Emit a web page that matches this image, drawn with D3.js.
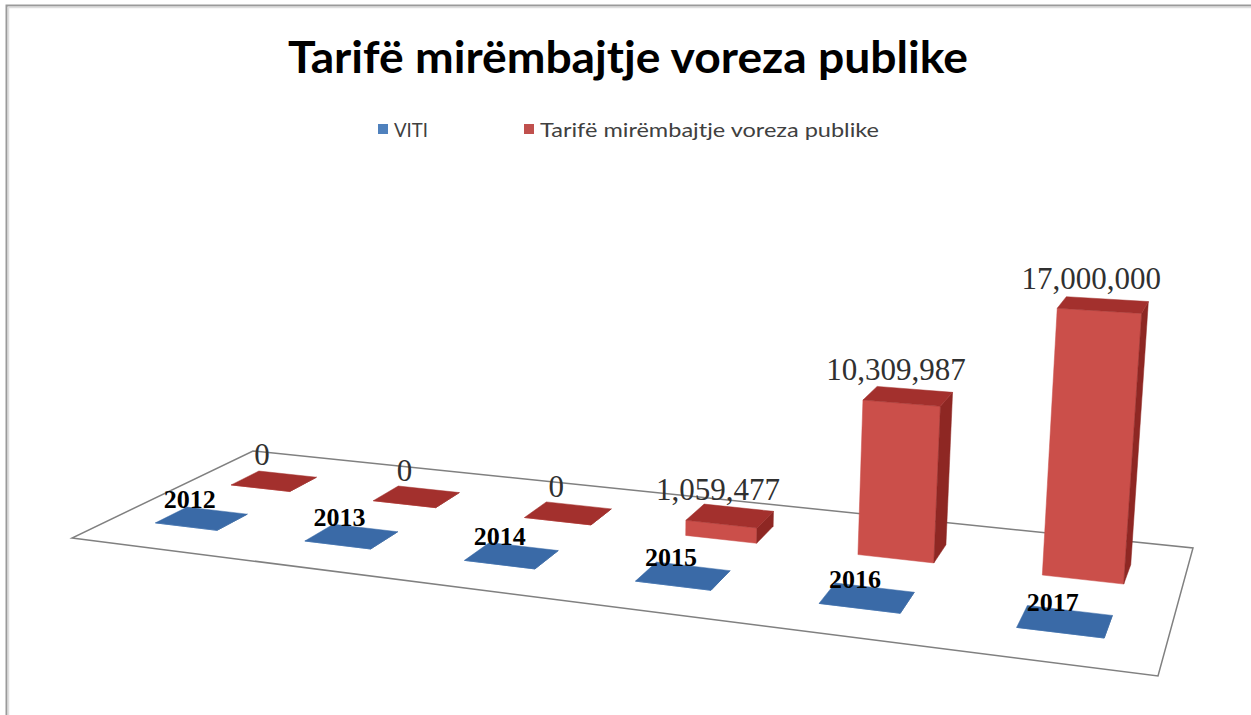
<!DOCTYPE html>
<html>
<head>
<meta charset="utf-8">
<script src="https://cdn.jsdelivr.net/npm/d3@7"></script>
<style>
	html, body { margin: 0; padding: 0; background: #fff; }
	svg { display: block; }
</style>
</head>
<body>
<svg id="chart"></svg>
<script>
// data
const YEARS = ["2012", "2013", "2014", "2015", "2016", "2017"];
const SERIES = ["VITI", "Tarifë mirëmbajtje voreza publike"];
const VITI = [2012, 2013, 2014, 2015, 2016, 2017];
const TARIFE = [0, 0, 0, 1059477, 10309987, 17000000];
const Y_MAX = 18000000;

const TITLE = "Tarifë mirëmbajtje voreza publike";

const COLOR = {
	blue: { front: "#4F81BD", side: "#2F5C94", top: "#3A6AA7", legend: "#4F81BD" },
	red: { front: "#CB4F4A", side: "#8E2723", top: "#A3302D", legend: "#C0504D" }
};

const WIDTH = 1251;
const HEIGHT = 715;

// floor corners of the 3d plot (front-left, front-right, back-right, back-left)
const FLOOR = [[72, 538], [1158, 676], [1193, 548], [253, 451]];
// vertical vanishing point & height strength
const VP = [600, 8500];
const K = -0.032;

const svg = d3.select("#chart")
              .attr("width", WIDTH)
              .attr("height", HEIGHT);

// homography unit square -> floor quad
const H = (function makeHomography() {
	const [[x0, y0], [x1, y1], [x2, y2], [x3, y3]] = FLOOR;
	const dx1 = x1 - x2, dx2 = x3 - x2, dx3 = x0 - x1 + x2 - x3;
	const dy1 = y1 - y2, dy2 = y3 - y2, dy3 = y0 - y1 + y2 - y3;
	const den = dx1 * dy2 - dx2 * dy1;
	const g = (dx3 * dy2 - dx2 * dy3) / den;
	const h = (dx1 * dy3 - dx3 * dy1) / den;
	return {
		a: x1 - x0 + g * x1, b: x3 - x0 + h * x3, c: x0,
		d: y1 - y0 + g * y1, e: y3 - y0 + h * y3, f: y0,
		g, h
	};
})();

function project(u, v, y) {
	const w = H.g * u + H.h * v + 1 + y * K;
	return [
		(H.a * u + H.b * v + H.c + y * K * VP[0]) / w,
		(H.d * u + H.e * v + H.f + y * K * VP[1]) / w
	];
}

const xScale = d3.scaleBand(YEARS, [0, 1]).paddingInner(0.58).paddingOuter(0.29);
const zScale = d3.scaleBand(SERIES, [0, 1]).paddingInner(0.6).paddingOuter(0.49);
const yScale = d3.scaleLinear([0, Y_MAX], [0, 1]);

const line = d3.line();

// frame
svg.append("path")
   .attr("d", `M6.5,${HEIGHT} V5.5 H${WIDTH}`)
   .attr("fill", "none")
   .attr("stroke", "#9a9a9a")
   .attr("stroke-width", 2);
svg.append("path")
   .attr("d", `M8.5,${HEIGHT} V7.5 H${WIDTH}`)
   .attr("fill", "none")
   .attr("stroke", "#dedede")
   .attr("stroke-width", 1.5);

// title
svg.append("text")
   .attr("x", 628)
   .attr("y", 73)
   .attr("text-anchor", "middle")
   .attr("font-family", "Lato, 'Open Sans', sans-serif")
   .attr("font-weight", "bold")
   .attr("font-size", 44)
   .attr("textLength", 680)
   .attr("lengthAdjust", "spacingAndGlyphs")
   .attr("fill", "#000")
   .text(TITLE);

// legend
(function makeLegend() {
	const items = [
		{ name: SERIES[0], color: COLOR.blue.legend, x: 378, len: 34 },
		{ name: SERIES[1], color: COLOR.red.legend, x: 524, len: 339 }
	];
	const g = svg.append("g");
	items.forEach(it => {
		g.append("rect")
		 .attr("x", it.x)
		 .attr("y", 124)
		 .attr("width", 10)
		 .attr("height", 10)
		 .attr("fill", it.color);
		g.append("text")
		 .attr("x", it.x + 16)
		 .attr("y", 137)
		 .attr("font-family", "Lato, 'Open Sans', sans-serif")
		 .attr("font-size", 20)
		 .attr("textLength", it.len)
		 .attr("lengthAdjust", "spacingAndGlyphs")
		 .attr("fill", "#404040")
		 .text(it.name);
	});
})();

// floor
svg.append("path")
   .attr("d", line([[0, 0], [1, 0], [1, 1], [0, 1]].map(([u, v]) => project(u, v, 0))) + "Z")
   .attr("fill", "#fff")
   .attr("stroke", "#808080")
   .attr("stroke-width", 1.5);

// bars: back row first, left to right
const rows = [
	{ name: SERIES[1], values: TARIFE, color: COLOR.red },
	{ name: SERIES[0], values: VITI, color: COLOR.blue }
];

const gBars = svg.append("g");
rows.forEach(row => {
	const v0 = zScale(row.name);
	const v1 = v0 + zScale.bandwidth();
	YEARS.forEach((yr, i) => {
		const u0 = xScale(yr);
		const u1 = u0 + xScale.bandwidth();
		const t = yScale(row.values[i]);
		const faces = [
			{ pts: [[u0, v0, 0], [u1, v0, 0], [u1, v0, t], [u0, v0, t]], fill: row.color.front },
			{ pts: [[u1, v0, 0], [u1, v1, 0], [u1, v1, t], [u1, v0, t]], fill: row.color.side },
			{ pts: [[u0, v0, t], [u1, v0, t], [u1, v1, t], [u0, v1, t]], fill: row.color.top }
		];
		gBars.append("g")
		     .selectAll("path")
		     .data(faces)
		     .join("path")
		     .attr("d", f => line(f.pts.map(p => project(...p))) + "Z")
		     .attr("fill", f => f.fill)
		     .attr("stroke", f => f.fill)
		     .attr("stroke-width", 0.5);
	});
});

// labels
(function makeLabels() {
	const fmt = d3.format(",");
	const g = svg.append("g");
	const vRed = zScale(SERIES[1]) + zScale.bandwidth() / 2;
	const vBlue = zScale(SERIES[0]) + zScale.bandwidth() / 2;

	g.selectAll(".val")
	 .data(TARIFE)
	 .join("text")
	 .attr("class", "val")
	 .attr("transform", (d, i) => {
		const [x, y] = project(xScale(YEARS[i]) + xScale.bandwidth() / 2, vRed, yScale(d));
		return `translate(${x - 12}, ${y - 16})`;
	 })
	 .attr("text-anchor", "middle")
	 .attr("font-family", "'Liberation Serif', 'Times New Roman', serif")
	 .attr("font-size", 31)
	 .attr("fill", "#303030")
	 .text(d => fmt(d));

	g.selectAll(".yr")
	 .data(VITI)
	 .join("text")
	 .attr("class", "yr")
	 .attr("transform", (d, i) => {
		const [x, y] = project(xScale(YEARS[i]) + xScale.bandwidth() / 2, vBlue, yScale(d));
		return `translate(${x - 12}, ${y - 10})`;
	 })
	 .attr("text-anchor", "middle")
	 .attr("font-family", "'Liberation Serif', 'Times New Roman', serif")
	 .attr("font-weight", "bold")
	 .attr("font-size", 26)
	 .attr("fill", "#000")
	 .text(d => d);
})();
</script>
</body>
</html>
